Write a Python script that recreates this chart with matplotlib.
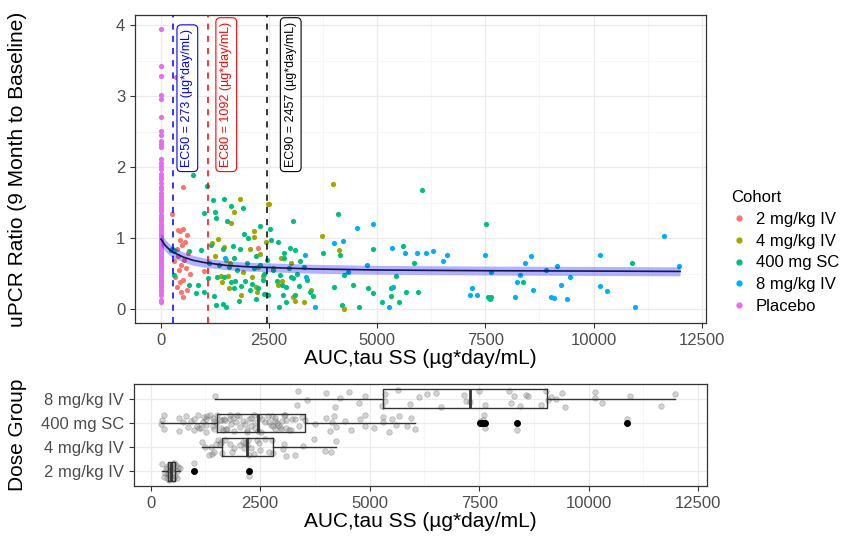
import numpy as np
import matplotlib
matplotlib.use("Agg")
import matplotlib.pyplot as plt
from matplotlib.lines import Line2D

plt.rcParams['font.family'] = ['Liberation Sans', 'DejaVu Sans']

# ---- data ----
cohorts = ['2 mg/kg IV', '4 mg/kg IV', '400 mg SC', '8 mg/kg IV', 'Placebo']
colors = ['#F8766D', '#A3A500', '#00BF7D', '#00B0F6', '#E76BF3']

auc_2iv = [350, 510, 250, 390, 450, 520, 600, 430, 560, 480, 370, 620, 400, 540,
           300, 470, 580, 420, 660, 330, 500, 440, 380, 610, 460, 520, 990, 2250]
upcr_2iv = [3.27, 1.72, 1.34, 1.12, 1.10, 1.13, 1.05, 0.98, 0.95, 0.90, 0.85, 0.80, 0.75, 0.70,
            0.68, 0.62, 0.58, 0.55, 0.50, 0.45, 0.42, 0.38, 0.32, 0.28, 0.25, 0.18, 0.54, 0.87]

auc_4iv = [1820, 1630, 1700, 2140, 1170, 1330, 1380, 1540, 1860, 2190, 2370, 2480, 2500, 3730,
           4120, 3470, 4230, 3090, 3050, 3010, 2780, 3980, 1600, 1400, 2050, 2300, 2600, 1450,
           1500, 2250, 2150, 1580, 2800, 2420, 1900, 2100, 3300, 1250, 2220, 2700]
upcr_4iv = [1.55, 1.21, 1.37, 1.11, 0.93, 0.99, 0.47, 0.47, 0.20, 0.31, 0.47, 1.48, 1.48, 1.03,
            0.83, 0.28, 0.01, 0.12, 0.18, 0.66, 0.73, 1.77, 0.65, 0.38, 0.85, 0.78, 0.58, 0.88,
            0.70, 0.60, 1.02, 0.30, 0.40, 0.95, 0.52, 0.45, 0.10, 0.75, 0.25, 0.35]

auc_sc = [250, 300, 300, 230, 640, 640, 740, 800, 850, 920, 990, 990, 1060, 1080, 1100, 1200,
          1220, 1260, 1270, 1270, 1290, 1430, 1430, 1450, 1450, 1500, 1520, 1610, 1630, 1660,
          1680, 1700, 1720, 1820, 1840, 1890, 1910, 1950, 2020, 2050, 2100, 2190, 2250, 2280,
          2370, 2380, 2380, 2480, 2510, 2550, 2740, 2760, 2800, 2830, 2850, 2850, 2880, 3060,
          3100, 3100, 3200, 3220, 3520, 2980, 3050, 3750, 4000, 4100, 4140, 4190, 4230, 4440,
          4580, 4790, 4900, 4900, 5100, 5310, 5310, 5430, 5500, 5590, 5660, 5850, 5940, 6030,
          7520, 7550, 7600, 7640, 7580, 8370, 10880,
          1580, 1750, 1980, 2150, 2300, 2450, 2600, 2680, 2950, 3000, 3150, 3300, 3380, 1350,
          1150, 2700, 3450, 2200, 1800, 2900]
upcr_sc = [0.85, 0.82, 0.49, 0.83, 0.82, 0.35, 1.89, 0.23, 0.35, 0.83, 1.35, 0.24, 1.73, 0.44,
           0.66, 1.54, 0.19, 1.37, 1.28, 0.06, 0.46, 0.85, 0.08, 1.56, 0.46, 0.04, 1.24, 0.38,
           1.45, 0.89, 0.72, 0.30, 0.40, 0.85, 0.33, 1.42, 1.06, 0.40, 1.00, 0.27, 0.36, 0.75,
           0.30, 1.18, 0.42, 0.22, 0.50, 0.21, 1.13, 0.97, 0.03, 0.49, 0.35, 0.20, 0.80, 0.72,
           0.31, 1.25, 0.83, 0.21, 0.33, 0.68, 0.19, 0.87, 0.44, 0.79, 0.32, 1.34, 0.76, 0.07,
           0.48, 0.34, 0.03, 0.30, 0.85, 0.23, 0.10, 0.30, 0.19, 0.47, 0.10, 0.89, 0.24, 0.66,
           0.24, 1.68, 1.20, 0.18, 0.15, 0.18, 0.16, 0.39, 0.65,
           0.60, 0.55, 0.65, 0.58, 0.62, 0.70, 0.55, 0.40, 0.58, 0.45, 0.50, 0.60, 0.42, 0.62,
           0.90, 0.95, 0.25, 0.15, 0.12, 0.10]

auc_8iv = [1470, 3340, 3360, 3570, 4000, 4210, 4320, 4530, 4760, 4900, 5270, 5340, 5360, 5640,
           5910, 6120, 6510, 6620, 7150, 7200, 7500, 7300, 6300, 7640, 9150, 9250, 8190, 8230,
           8300, 8420, 8560, 8610, 8900, 9020, 9080, 9380, 9450, 10140, 10140, 10300, 10950,
           11640, 11980]
upcr_8iv = [0.73, 0.77, 0.46, 0.03, 0.94, 0.96, 0.52, 1.15, 0.62, 1.20, 0.03, 0.87, 0.32, 0.79,
            0.80, 0.80, 0.68, 0.77, 0.20, 0.30, 0.76, 0.20, 0.82, 0.52, 0.61, 0.35, 0.17, 0.39,
            0.48, 0.66, 0.75, 0.28, 0.56, 0.18, 0.16, 0.15, 0.45, 0.76, 0.33, 0.26, 0.04,
            1.04, 0.61]

upcr_pbo = [3.94, 3.42, 3.28, 3.01, 2.96, 2.70, 2.51, 2.46, 2.37, 2.33, 2.29, 2.11, 2.06, 2.02,
            1.97, 1.91, 1.86, 1.83, 1.78, 1.72, 1.69, 1.64, 1.60, 1.55, 1.52, 1.48, 1.44, 1.41,
            1.38, 1.33, 1.30, 1.27, 1.24, 1.20, 1.17, 1.14, 1.12, 1.08, 1.05, 1.03, 0.99, 0.96,
            0.93, 0.91, 0.88, 0.85, 0.82, 0.79, 0.77, 0.74, 0.71, 0.68, 0.66, 0.63, 0.60, 0.57,
            0.54, 0.52, 0.49, 0.46, 0.43, 0.40, 0.37, 0.34, 0.31, 0.28, 0.24, 0.20, 0.14, 0.11]
auc_pbo = [0] * len(upcr_pbo)

# fitted Emax curve with ribbon
fit_x = [0, 100, 200, 300, 500, 750, 1000, 1500, 2000, 2500, 3500, 5000, 7500, 10000, 12000]
fit_y = [0.99, 0.90, 0.84, 0.80, 0.74, 0.69, 0.66, 0.62, 0.60, 0.59, 0.57, 0.555, 0.545, 0.54, 0.535]
fit_lo = [0.90, 0.82, 0.76, 0.72, 0.67, 0.62, 0.595, 0.56, 0.54, 0.53, 0.51, 0.495, 0.485, 0.478, 0.472]
fit_hi = [1.07, 0.98, 0.92, 0.88, 0.81, 0.76, 0.725, 0.685, 0.665, 0.655, 0.635, 0.62, 0.61, 0.605, 0.60]

ec_names = ['EC50', 'EC80', 'EC90']
ec_vals = [273, 1092, 2457]
ec_cols = ['blue', 'red', 'black']

dose_groups = ['2 mg/kg IV', '4 mg/kg IV', '400 mg SC', '8 mg/kg IV']
jit = [0.12, -0.25, 0.31, -0.05, 0.22, -0.33, 0.02, 0.28, -0.18, 0.09, -0.29, 0.17, -0.11,
       0.34, -0.22, 0.05, 0.25, -0.36, 0.14, -0.08, 0.30, -0.14, 0.20, -0.27, 0.07, -0.02,
       0.33, -0.20, 0.11, -0.31, 0.16]

xs = [auc_2iv, auc_4iv, auc_sc, auc_8iv, auc_pbo]
ys = [upcr_2iv, upcr_4iv, upcr_sc, upcr_8iv, upcr_pbo]

W, H = 844, 536
fig = plt.figure(figsize=(W / 100, H / 100), dpi=100)


def style_ax(ax):
    for s in ax.spines.values():
        s.set_color('#333333')
        s.set_linewidth(0.9)
    ax.grid(True, which='major', color='#EBEBEB', lw=0.9, zorder=0)
    ax.grid(True, which='minor', color='#F5F5F5', lw=0.6, zorder=0)
    ax.set_axisbelow(True)
    ax.tick_params(which='major', length=3.5, width=0.8, color='#333333',
                   labelcolor='#4D4D4D', labelsize=12)
    ax.tick_params(which='minor', length=0)


# ---- top panel ----
ax = fig.add_axes([135 / W, 1 - 323 / H, (706 - 135) / W, (323 - 15) / H])
style_ax(ax)
for xv, yv, c, name in zip(xs, ys, colors, cohorts):
    ax.scatter(xv, yv, s=14, color=c, lw=0, zorder=2)

for n, v, c in zip(ec_names, ec_vals, ec_cols):
    ax.axvline(v, color=c, ls=(0, (4, 4)), lw=1.1, zorder=3)

ax.fill_between(fit_x, fit_lo, fit_hi, color='blue', alpha=0.3, lw=0, zorder=4)
ax.plot(fit_x, fit_y, color='#15154f', lw=1.2, zorder=5)

lab_x = [610, 1510, 3000]
for n, v, c, lx in zip(ec_names, ec_vals, ec_cols, lab_x):
    ax.text(lx, 2.0, f'{n} = {v} (\u00b5g*day/mL)', rotation=90, ha='center', va='bottom',
            color=c, fontsize=9, zorder=6,
            bbox=dict(boxstyle='round,pad=0.35,rounding_size=0.35', fc='white', ec=c, lw=0.8))

ax.set_xlim(-600, 12600)
ax.set_ylim(-0.19, 4.14)
ax.set_xticks([0, 2500, 5000, 7500, 10000, 12500])
ax.set_xticks([1250, 3750, 6250, 8750, 11250], minor=True)
ax.set_yticks([0, 1, 2, 3, 4])
ax.set_yticks([0.5, 1.5, 2.5, 3.5], minor=True)
ax.set_xlabel('AUC,tau SS (\u00b5g*day/mL)', fontsize=15, labelpad=1)
ax.set_ylabel('uPCR Ratio (9 Month to Baseline)', fontsize=15)
ax.yaxis.set_label_coords(-0.189, 0.5)

handles = [Line2D([], [], ls='', marker='o', ms=3.5, mfc=c, mec=c) for c in colors]
fig.legend(handles, cohorts, title='Cohort', loc='center left', bbox_to_anchor=(716 / W, 1 - 252 / H),
           frameon=False, fontsize=12, title_fontsize=12, handletextpad=0.5,
           labelspacing=0.4, handlelength=1.0, alignment='left')

# ---- bottom panel ----
ax2 = fig.add_axes([134 / W, 1 - 486 / H, (707 - 134) / W, (486 - 384) / H])
style_ax(ax2)
box_data = [auc_2iv, auc_4iv, auc_sc, auc_8iv]
pos = [1, 2, 3, 4]
ax2.boxplot(box_data, positions=pos, orientation='horizontal', widths=0.75, showcaps=False,
            boxprops=dict(color='#333333', lw=1.0),
            whiskerprops=dict(color='#333333', lw=1.0),
            medianprops=dict(color='#333333', lw=2.0),
            flierprops=dict(marker='o', mfc='black', mec='black', ms=4),
            zorder=3)
for p, xv in zip(pos, box_data):
    yj = [p + jit[i % len(jit)] for i in range(len(xv))]
    ax2.scatter(xv, yj, s=16, color='grey', alpha=0.35, lw=0.5, edgecolor='#555555', zorder=2)

ax2.set_xlim(-380, 12700)
ax2.set_ylim(0.4, 4.6)
ax2.set_yticks(pos)
ax2.set_yticklabels(dose_groups)
ax2.set_xticks([0, 2500, 5000, 7500, 10000, 12500])
ax2.set_xticks([1250, 3750, 6250, 8750, 11250], minor=True)
ax2.grid(False, which='minor', axis='y')
ax2.set_xlabel('AUC,tau SS (\u00b5g*day/mL)', fontsize=15, labelpad=1)
ax2.set_ylabel('Dose Group', fontsize=15)
ax2.yaxis.set_label_coords(-0.187, 0.5)

fig.savefig('out.png', dpi=100)
